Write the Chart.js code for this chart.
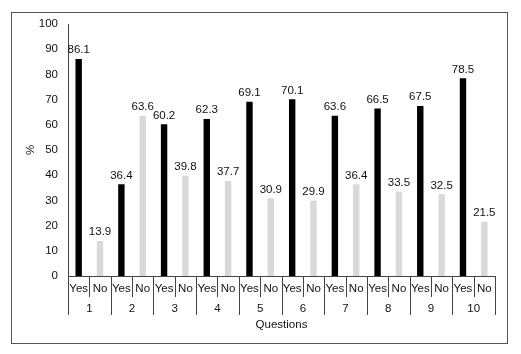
<!DOCTYPE html>
<html>
<head>
<meta charset="utf-8">
<style>
  html, body { margin:0; padding:0; background:#fff; }
  #wrap { width:521px; height:354px; }
</style>
<script src="https://cdn.jsdelivr.net/npm/chart.js@4.4.0/dist/chart.umd.min.js"></script>
</head>
<body>
<div id="wrap"><canvas id="c" width="521" height="354"></canvas></div>
<script>
// chart values
const QUESTIONS = ['1','2','3','4','5','6','7','8','9','10'];
const ANSWERS = ['Yes','No'];
const YES_PCT = [86.1, 36.4, 60.2, 62.3, 69.1, 70.1, 63.6, 66.5, 67.5, 78.5];
const NO_PCT  = [13.9, 63.6, 39.8, 37.7, 30.9, 29.9, 36.4, 33.5, 32.5, 21.5];
const Y_TICKS = [0,10,20,30,40,50,60,70,80,90,100];

const FONT = 'Liberation Sans, Arial, sans-serif';
const FS = 11.5;
const YES_COLOR = '#000000';
const NO_COLOR = '#d9d9d9';
const LINE_COLOR = '#444';

// interleave yes/no into one flat category list
const labels = [], values = [], colors = [];
QUESTIONS.forEach((q,i) => {
  labels.push(ANSWERS[0]); values.push(YES_PCT[i]); colors.push(YES_COLOR);
  labels.push(ANSWERS[1]); values.push(NO_PCT[i]);  colors.push(NO_COLOR);
});

// frame, value labels, two-level category axis
const extras = {
  id: 'extras',
  afterDraw(chart){
    const {ctx, chartArea} = chart;
    const x = chart.scales.x;
    const bottom = chartArea.bottom;
    ctx.save();

    // figure frame
    ctx.strokeStyle = '#555';
    ctx.lineWidth = 1;
    ctx.strokeRect(11.5, 12.5, 496, 331);

    // value labels on top of bars
    const meta = chart.getDatasetMeta(0);
    ctx.fillStyle = '#111';
    ctx.font = `${FS}px ${FONT}`;
    ctx.textAlign = 'center';
    ctx.textBaseline = 'bottom';
    meta.data.forEach((bar,i) => {
      ctx.fillText(values[i].toFixed(1), bar.x, bar.y - 3);
    });

    // separators under the axis
    const half = (x.getPixelForValue(1) - x.getPixelForValue(0)) / 2;
    ctx.strokeStyle = LINE_COLOR;
    ctx.beginPath();
    for(let i=0;i<=labels.length;i++){
      const px = Math.round(x.getPixelForValue(0) - half + i*2*half) + 0.5;
      const len = (i % 2 === 0) ? 39 : 21;
      ctx.moveTo(px, bottom);
      ctx.lineTo(px, bottom + len);
    }
    ctx.stroke();

    // question numbers
    ctx.fillStyle = '#111';
    ctx.textBaseline = 'middle';
    QUESTIONS.forEach((q,i) => {
      const cx = (x.getPixelForValue(2*i) + x.getPixelForValue(2*i+1)) / 2;
      ctx.fillText(q, cx, bottom + 33);
    });
    ctx.restore();
  }
};

new Chart(document.getElementById('c'), {
  type: 'bar',
  data: {
    labels,
    datasets: [{
      data: values,
      backgroundColor: colors,
      borderWidth: 0,
      barPercentage: 0.3,
      categoryPercentage: 1
    }]
  },
  options: {
    responsive: false,
    animation: false,
    layout: { padding: { left: 12, top: 24, right: 26, bottom: 12 } },
    plugins: { legend: { display: false }, tooltip: { enabled: false } },
    scales: {
      x: {
        grid: { display: false, drawTicks: false },
        border: { display: true, color: LINE_COLOR },
        ticks: { color: '#111', font: { family: FONT, size: FS }, padding: 6, autoSkip: false, maxRotation: 0 },
        title: { display: true, text: 'Questions', color: '#111', font: { family: FONT, size: FS }, padding: { bottom: 10 } },
        afterFit: s => { s.height = 66; }
      },
      y: {
        min: 0, max: 100,
        afterBuildTicks: s => { s.ticks = Y_TICKS.map(v => ({ value: v })); },
        grid: { display: false, drawTicks: false },
        border: { display: true, color: LINE_COLOR },
        ticks: { color: '#111', font: { family: FONT, size: FS }, padding: 10 },
        title: { display: true, text: '%', color: '#111', font: { family: FONT, size: FS }, padding: { top: 12 } },
        afterFit: s => { s.width = 56; }
      }
    }
  },
  plugins: [extras]
});
</script>
</body>
</html>
